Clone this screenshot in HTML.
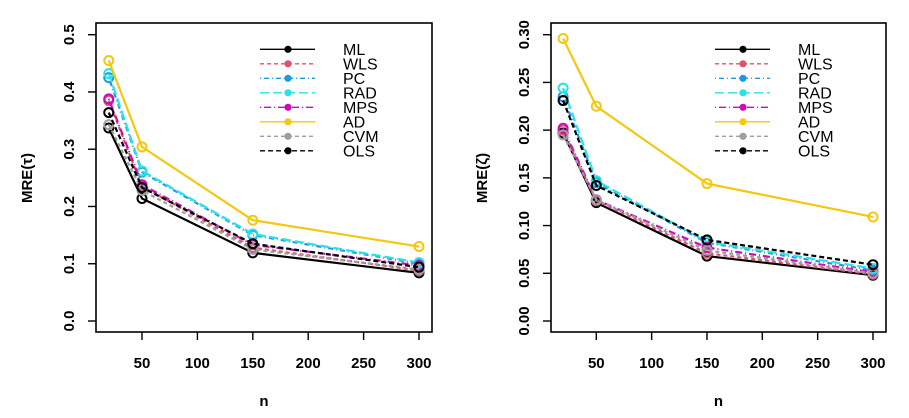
<!DOCTYPE html>
<html><head><meta charset="utf-8"><style>
body{margin:0;background:#fff}
svg{display:block;font-family:"Liberation Sans",sans-serif}
</style></head><body>
<svg id="chart" width="909" height="418" viewBox="0 0 909 418"></svg>
<script>
const nValues = [20, 50, 150, 300];
const methods = ["ML","WLS","PC","RAD","MPS","AD","CVM","OLS"];
const tauML  = [0.337, 0.214, 0.119, 0.084];
const tauWLS = [0.385, 0.235, 0.128, 0.088];
const tauPC  = [0.425, 0.260, 0.150, 0.100];
const tauRAD = [0.432, 0.262, 0.152, 0.102];
const tauMPS = [0.388, 0.238, 0.133, 0.097];
const tauAD  = [0.455, 0.304, 0.176, 0.130];
const tauCVM = [0.343, 0.228, 0.125, 0.090];
const tauOLS = [0.364, 0.233, 0.135, 0.094];
const zetaML  = [0.197, 0.124, 0.068, 0.048];
const zetaWLS = [0.200, 0.126, 0.071, 0.049];
const zetaPC  = [0.235, 0.145, 0.082, 0.053];
const zetaRAD = [0.244, 0.147, 0.083, 0.055];
const zetaMPS = [0.202, 0.127, 0.077, 0.051];
const zetaAD  = [0.296, 0.225, 0.144, 0.109];
const zetaCVM = [0.195, 0.127, 0.074, 0.050];
const zetaOLS = [0.231, 0.142, 0.085, 0.059];
const xTicks = [50, 100, 150, 200, 250, 300];
const tauTicks = ["0.0","0.1","0.2","0.3","0.4","0.5"];
const zetaTicks = ["0.00","0.05","0.10","0.15","0.20","0.25","0.30"];

const colors = ["#000000","#DF536B","#2297E6","#28E2E5","#CD0BBC","#F5C710","#9E9E9E","#000000"];
const dashes = ["","4,3","1,3,5,3","9,4","1,3,7,3","","4,3","5,3"];
const NS = "http://www.w3.org/2000/svg";
const svg = document.getElementById("chart");
function mk(tag, attrs, parent){const e=document.createElementNS(NS,tag);for(const k in attrs)e.setAttribute(k,attrs[k]);(parent||svg).appendChild(e);return e;}

function panel(cfg){
  const g = mk("g",{});
  
  
  const xS = v => cfg.x50 + (v-50)*(cfg.x300-cfg.x50)/250;
  const yS = v => cfg.y0 - v*(cfg.y0-cfg.yTop)/cfg.yTopVal;
  const box = mk("rect",{x:cfg.L,y:23,width:cfg.R-cfg.L,height:309,fill:"none",stroke:"#000","stroke-width":1.6},g);
  
  
  cfg.ticks.forEach((t,i)=>{
    const v = parseFloat(t), y=yS(v);
    mk("line",{x1:cfg.L-8,x2:cfg.L,y1:y,y2:y,stroke:"#000","stroke-width":1.4},g);
    const tx = mk("text",{x:cfg.L-22,y:y,"font-size":15,"font-weight":"bold","text-anchor":"middle",transform:`rotate(-90 ${cfg.L-22} ${y})`},g);
    tx.textContent=t;
    
    
  });
  xTicks.forEach(t=>{
    const x=xS(t);
    mk("line",{x1:x,x2:x,y1:332,y2:340,stroke:"#000","stroke-width":1.4},g);
    const tx=mk("text",{x:x,y:368,"font-size":15,"font-weight":"bold","text-anchor":"middle"},g);
    tx.textContent=t;
    
    
  });
  const xl=mk("text",{x:(cfg.L+cfg.R)/2,y:406,"font-size":15,"font-weight":"bold","text-anchor":"middle"},g);
  xl.textContent="n";
  
  
  const yl=mk("text",{x:cfg.L-64,y:178,"font-size":15,"font-weight":"bold","text-anchor":"middle",transform:`rotate(-90 ${cfg.L-64} 178)`},g);
  yl.textContent=cfg.ylabel;
  
  
  cfg.series.forEach((s,i)=>{
    const pts = nValues.map((n,j)=>xS(n)+","+yS(s[j])).join(" ");
    const pl=mk("polyline",{points:pts,fill:"none",stroke:colors[i],"stroke-width":2.2,"stroke-dasharray":dashes[i]},g);
    
    
    nValues.forEach((n,j)=>{
      const c=mk("circle",{cx:xS(n),cy:yS(s[j]),r:4.5,fill:"none",stroke:colors[i],"stroke-width":2},g);
      
      
    });
  });
  const lx = cfg.L + 164;
  methods.forEach((m,i)=>{
    const y = 49.3 + i*14.5;
    const lg = mk("g",{},g);
    
    
    mk("line",{x1:lx,x2:lx+55,y1:y,y2:y,stroke:colors[i],"stroke-width":1.4,"stroke-dasharray":dashes[i]},lg);
    mk("circle",{cx:lx+28,cy:y,r:3.6,fill:colors[i]},lg);
    const t=mk("text",{x:lx+83,y:y+5.5,"font-size":16},lg);
    t.textContent=m;
  });
}
panel({name:"tau-panel",L:96,R:432,x50:142,x300:419,y0:321,yTop:34.7,yTopVal:0.5,ticks:tauTicks,ylabel:"MRE(τ)",
  series:[tauML,tauWLS,tauPC,tauRAD,tauMPS,tauAD,tauCVM,tauOLS]});
panel({name:"zeta-panel",L:551,R:886,x50:596.3,x300:873,y0:321,yTop:34.7,yTopVal:0.30,ticks:zetaTicks,ylabel:"MRE(ζ)",
  series:[zetaML,zetaWLS,zetaPC,zetaRAD,zetaMPS,zetaAD,zetaCVM,zetaOLS]});
</script>
</body></html>
